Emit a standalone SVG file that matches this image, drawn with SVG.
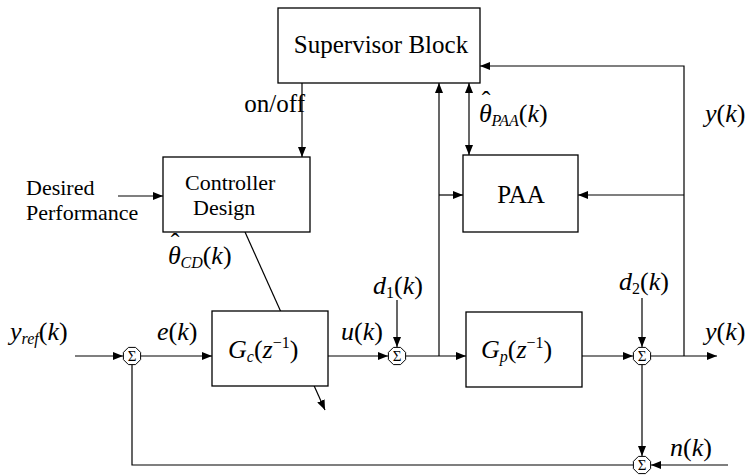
<svg xmlns="http://www.w3.org/2000/svg" xmlns:xlink="http://www.w3.org/1999/xlink" width="747" height="475" viewBox="0 0 747 475" font-family="Liberation Serif, DejaVu Serif, serif">
<style>
.box{fill:#fff;stroke:#000;stroke-width:1.3}
.ln{fill:none;stroke:#000;stroke-width:1.2}
text{font-family:'Liberation Serif','DejaVu Serif',serif;font-size:25px;fill:#000}
.t2{font-size:22px}
.m{font-size:26px}
.i{font-style:italic}
.s{font-size:16px}
.sig{font-size:15px}
</style>
<defs>
<marker id="ah" viewBox="0 0 10 8" refX="10" refY="4" markerWidth="10" markerHeight="8" markerUnits="userSpaceOnUse" orient="auto-start-reverse">
<path d="M0,0 L10,4 L0,8 Z" fill="#000"/>
</marker>
<polygon id="oct" points="-3.6,-8.6 3.6,-8.6 8.6,-3.6 8.6,3.6 3.6,8.6 -3.6,8.6 -8.6,3.6 -8.6,-3.6" fill="#fff" stroke="#000" stroke-width="1"/>
</defs>
<rect width="747" height="475" fill="#fff"/>

<g id="connectors" class="ln">
<line x1="245" y1="232" x2="325" y2="410" marker-end="url(#ah)"/>
<line x1="302" y1="83" x2="302" y2="157" marker-end="url(#ah)"/>
<line x1="118" y1="196" x2="163" y2="196" marker-end="url(#ah)"/>
<line x1="75" y1="356" x2="123" y2="356" marker-end="url(#ah)"/>
<line x1="141" y1="356" x2="212" y2="356" marker-end="url(#ah)"/>
<line x1="328" y1="356" x2="388" y2="356" marker-end="url(#ah)"/>
<line x1="397" y1="300" x2="397" y2="347" marker-end="url(#ah)"/>
<line x1="406" y1="356" x2="466" y2="356" marker-end="url(#ah)"/>
<line x1="439" y1="356" x2="439" y2="83" marker-end="url(#ah)"/>
<line x1="439" y1="195" x2="463" y2="195" marker-end="url(#ah)"/>
<line x1="469" y1="155" x2="469" y2="83" marker-start="url(#ah)" marker-end="url(#ah)"/>
<line x1="582" y1="356" x2="633" y2="356" marker-end="url(#ah)"/>
<line x1="642" y1="298" x2="642" y2="347" marker-end="url(#ah)"/>
<line x1="651" y1="356" x2="717" y2="356" marker-end="url(#ah)"/>
<polyline points="684,356 684,66 480,66" marker-end="url(#ah)"/>
<line x1="684" y1="195" x2="578" y2="195" marker-end="url(#ah)"/>
<line x1="642" y1="365" x2="642" y2="456" marker-end="url(#ah)"/>
<line x1="728" y1="465" x2="651" y2="465" marker-end="url(#ah)"/>
<polyline points="633,465 132,465 132,365"/>
</g>

<g id="supervisor">
<rect class="box" x="278" y="8" width="202" height="75"/>
<text x="381" y="53" text-anchor="middle">Supervisor Block</text>
</g>

<g id="controller-design">
<rect class="box" x="163" y="157" width="147" height="75"/>
<text class="t2" x="185" y="190">Controller</text>
<text class="t2" x="193" y="215">Design</text>
</g>

<g id="paa">
<rect class="box" x="463" y="155" width="115" height="77"/>
<text x="521" y="203" text-anchor="middle">PAA</text>
</g>

<g id="gc">
<rect class="box" x="212" y="311" width="116" height="75"/>
<text class="m" x="228" y="358"><tspan class="i">G</tspan><tspan class="s i" dy="4">c</tspan><tspan dy="-4">(</tspan><tspan class="i">z</tspan><tspan class="s" dy="-10">−1</tspan><tspan dy="10">)</tspan></text>
</g>

<g id="gp">
<rect class="box" x="466" y="312" width="116" height="75"/>
<text class="m" x="481" y="358"><tspan class="i">G</tspan><tspan class="s i" dy="4">p</tspan><tspan dy="-4">(</tspan><tspan class="i">z</tspan><tspan class="s" dy="-10">−1</tspan><tspan dy="10">)</tspan></text>
</g>

<g id="sum1"><use xlink:href="#oct" x="132" y="356"/><text class="sig" x="132" y="361" text-anchor="middle">Σ</text></g>
<g id="sum2"><use xlink:href="#oct" x="397" y="356"/><text class="sig" x="397" y="361" text-anchor="middle">Σ</text></g>
<g id="sum3"><use xlink:href="#oct" x="642" y="356"/><text class="sig" x="642" y="361" text-anchor="middle">Σ</text></g>
<g id="sum4"><use xlink:href="#oct" x="642" y="465"/><text class="sig" x="642" y="470" text-anchor="middle">Σ</text></g>

<g id="labels">
<text x="305" y="112" text-anchor="end">on/off</text>
<text class="t2" x="26" y="195">Desired</text>
<text class="t2" x="26" y="220">Performance</text>
<text class="m" x="168" y="264"><tspan class="i">θ</tspan><tspan dx="-10" dy="-13">ˆ</tspan><tspan class="s i" dx="1" dy="17">CD</tspan><tspan dy="-4">(</tspan><tspan class="i">k</tspan>)</text>
<text class="m" x="479" y="122"><tspan class="i">θ</tspan><tspan dx="-10" dy="-13">ˆ</tspan><tspan class="s i" dx="1" dy="17">PAA</tspan><tspan dy="-4">(</tspan><tspan class="i">k</tspan>)</text>
<text class="m" x="10" y="340"><tspan class="i">y</tspan><tspan class="s i" dy="4">ref</tspan><tspan dy="-4">(</tspan><tspan class="i">k</tspan>)</text>
<text class="m" x="157" y="340"><tspan class="i">e</tspan>(<tspan class="i">k</tspan>)</text>
<text class="m" x="341" y="340"><tspan class="i">u</tspan>(<tspan class="i">k</tspan>)</text>
<text class="m" x="373" y="294"><tspan class="i">d</tspan><tspan class="s" dy="4">1</tspan><tspan dy="-4">(</tspan><tspan class="i">k</tspan>)</text>
<text class="m" x="619" y="290"><tspan class="i">d</tspan><tspan class="s" dy="4">2</tspan><tspan dy="-4">(</tspan><tspan class="i">k</tspan>)</text>
<text class="m" x="705" y="340"><tspan class="i">y</tspan>(<tspan class="i">k</tspan>)</text>
<text class="m" x="705" y="122"><tspan class="i">y</tspan>(<tspan class="i">k</tspan>)</text>
<text class="m" x="670" y="456"><tspan class="i">n</tspan>(<tspan class="i">k</tspan>)</text>
</g>
</svg>
